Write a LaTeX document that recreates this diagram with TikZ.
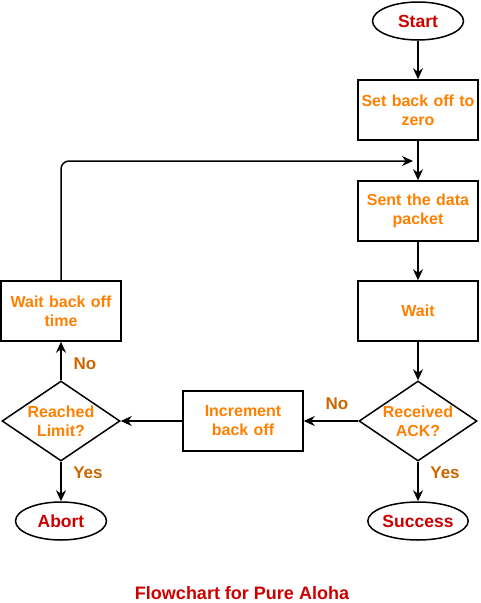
\documentclass[tikz,border=0pt]{standalone}
\usepackage{fontspec}
\setmainfont{Liberation Sans}
\usetikzlibrary{shapes.geometric,arrows.meta}
\definecolor{nodetxt}{HTML}{FF8000}
\definecolor{lbltxt}{HTML}{CC6600}
\definecolor{termtxt}{HTML}{CC0000}
\begin{document}
\begin{tikzpicture}[x=1pt,y=-1pt,
  every node/.style={font=\fontsize{16}{19}\selectfont\bfseries},
  procbox/.style={draw=black,line width=1.5pt,minimum width=120pt,minimum height=60pt,text width=118pt,align=center,text=nodetxt,inner sep=0pt},
  term/.style={draw=black,line width=1.5pt,ellipse,minimum width=91pt,minimum height=38pt,inner sep=0pt,text=termtxt,font=\fontsize{17.5}{20}\selectfont\bfseries},
  decision/.style={draw=black,line width=1.5pt,diamond,minimum width=118pt,minimum height=80pt,aspect=1.5,inner sep=0pt,align=center,text=nodetxt},
  lbl/.style={text=lbltxt,font=\fontsize{17}{20}\selectfont\bfseries},
  conn/.style={line width=1.5pt,-{Stealth[length=11pt,width=10pt]}}]
\useasboundingbox (0,0) rectangle (480,603);
\node[term] (start) at (418,21) {Start};
\node[procbox] (setzero) at (418,110) {Set back off to\\zero};
\node[procbox] (send) at (418,211) {Sent the data\\packet};
\node[procbox] (wait) at (418,311) {Wait};
\node[decision] (ack) at (418,421) {Received\\ACK?};
\node[term] (success) at (418,521) {Success};
\node[procbox] (inc) at (243,421) {Increment\\back off};
\node[decision] (limit) at (61,421) {Reached\\Limit?};
\node[procbox] (waitbo) at (61,311) {Wait back off\\time};
\node[term] (abort) at (61,521) {Abort};
\coordinate (join) at (413,161);
\node[text=termtxt,font=\fontsize{18}{20}\selectfont\bfseries] (title) at (242,593) {Flowchart for Pure Aloha};
\draw[conn] (start) -- (setzero);
\draw[conn] (setzero) -- (send);
\draw[conn] (send) -- (wait);
\draw[conn] (wait) -- (ack);
\draw[conn] (ack) -- (success);
\draw[conn] (ack) -- (inc);
\draw[conn] (inc) -- (limit);
\draw[conn] (limit) -- (waitbo);
\draw[conn] (limit) -- (abort);
\draw[conn,rounded corners=8pt] (waitbo.north) |- (join);
\node[lbl] (no1) at (85,364) {No};
\node[lbl] (yes1) at (88,473) {Yes};
\node[lbl] (no2) at (337,404) {No};
\node[lbl] (yes2) at (445,473) {Yes};
\end{tikzpicture}
\end{document}
